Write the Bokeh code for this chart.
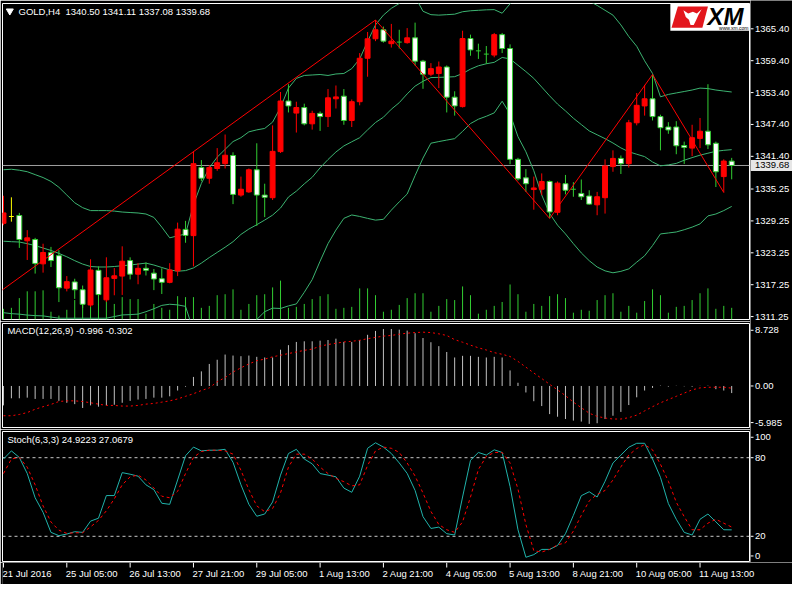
from bokeh.plotting import figure
from bokeh.layouts import column, row
from bokeh.models import ColumnDataSource, Range1d, Span
from bokeh.core.properties import value
from bokeh.embed import file_html
from bokeh.resources import INLINE

# ---------------------------------------------------------------- data
header_text = "GOLD,H4  1340.50 1341.11 1337.08 1339.68"
macd_text = "MACD(12,26,9) -0.996 -0.302"
stoch_text = "Stoch(6,3,3) 24.9223 27.0679"
bid_price = 1339.68

time_labels = ["21 Jul 2016", "25 Jul 05:00", "26 Jul 13:00", "27 Jul 21:00", "29 Jul 05:00",
               "1 Aug 13:00", "2 Aug 21:00", "4 Aug 05:00", "5 Aug 13:00", "8 Aug 21:00",
               "10 Aug 05:00", "11 Aug 13:00"]
time_label_bars = [0, 8, 16, 24, 32, 40, 48, 56, 64, 72, 80, 88]

price_ticks = [1365.40, 1359.40, 1353.40, 1347.40, 1341.40, 1335.25, 1329.25, 1323.25, 1317.25, 1311.25]
macd_tick_labels = ["8.728", "0.00", "-5.985"]
stoch_tick_labels = ["100", "80", "20", "0"]
stoch_levels = [80, 20]

opens = [1328.80, 1330.08, 1330.27, 1325.51, 1325.75, 1321.17, 1323.26, 1322.71, 1316.60, 1317.77,
         1316.30, 1313.43, 1319.96, 1314.40, 1318.43, 1318.87, 1321.79, 1319.23, 1320.33, 1319.42,
         1318.37, 1317.69, 1319.84, 1327.65, 1326.48, 1339.29, 1337.28, 1339.11, 1340.02, 1341.56,
         1334.11, 1334.71, 1338.87, 1334.11, 1333.62, 1342.29, 1351.81, 1349.54, 1350.58, 1347.52,
         1349.48, 1348.88, 1352.23, 1352.72, 1348.15, 1351.68, 1359.86, 1363.52, 1365.22, 1362.60,
         1362.90, 1362.79, 1363.70, 1359.31, 1356.86, 1356.98, 1358.21, 1352.54, 1350.76, 1363.57,
         1361.25, 1360.64, 1360.46, 1364.30, 1361.69, 1340.83, 1337.35, 1335.15, 1335.21, 1336.67,
         1330.87, 1336.25, 1335.21, 1334.42, 1333.93, 1332.28, 1333.62, 1339.47, 1341.01, 1340.02,
         1347.71, 1350.89, 1352.23, 1348.88, 1346.92, 1346.92, 1343.44, 1342.95, 1344.78, 1346.13,
         1343.86, 1337.59, 1340.50]
highs = [1333.98, 1333.69, 1330.76, 1327.52, 1326.06, 1324.96, 1324.36, 1323.73, 1318.87, 1318.37,
         1317.09, 1322.03, 1320.70, 1322.40, 1320.38, 1324.47, 1322.40, 1321.30, 1321.43, 1320.20,
         1320.33, 1321.30, 1328.93, 1329.26, 1342.34, 1340.70, 1339.73, 1342.95, 1345.51, 1342.16,
         1337.59, 1339.11, 1343.86, 1336.25, 1347.23, 1353.51, 1354.97, 1351.68, 1351.31, 1349.98,
         1349.85, 1354.06, 1354.73, 1354.06, 1352.10, 1360.83, 1364.80, 1367.05, 1365.82, 1366.32,
         1365.22, 1365.53, 1366.56, 1359.55, 1358.94, 1359.24, 1358.50, 1353.64, 1365.04, 1364.30,
         1362.60, 1362.16, 1364.62, 1364.62, 1362.47, 1341.12, 1339.00, 1337.59, 1338.19, 1336.85,
         1336.67, 1337.90, 1336.54, 1337.04, 1335.02, 1334.71, 1340.83, 1342.53, 1341.56, 1348.26,
         1353.32, 1354.84, 1356.80, 1349.24, 1347.83, 1348.02, 1344.17, 1347.34, 1348.62, 1354.97,
         1344.17, 1340.83, 1341.11]
lows = [1328.44, 1329.11, 1324.17, 1321.90, 1319.34, 1319.52, 1320.57, 1313.98, 1315.99, 1314.58,
        1312.88, 1313.06, 1313.38, 1313.98, 1315.26, 1315.32, 1318.24, 1317.33, 1318.98, 1316.23,
        1315.50, 1317.51, 1318.87, 1325.14, 1320.70, 1336.73, 1336.25, 1338.68, 1339.11, 1332.41,
        1333.80, 1334.53, 1328.31, 1329.96, 1333.19, 1342.03, 1349.66, 1345.88, 1347.23, 1346.43,
        1346.19, 1346.92, 1350.40, 1347.34, 1346.92, 1351.00, 1356.38, 1363.08, 1362.79, 1361.87,
        1361.69, 1362.60, 1358.50, 1354.11, 1356.49, 1354.24, 1349.66, 1349.06, 1350.58, 1360.33,
        1359.73, 1358.81, 1360.04, 1360.83, 1339.91, 1336.85, 1334.71, 1331.36, 1334.11, 1329.72,
        1330.32, 1334.24, 1333.80, 1333.19, 1332.28, 1330.32, 1330.63, 1338.50, 1338.08, 1339.29,
        1347.23, 1349.06, 1348.15, 1342.53, 1345.64, 1341.80, 1339.97, 1341.43, 1342.95, 1342.77,
        1335.63, 1334.60, 1337.08]
closes = [1330.76, 1330.08, 1325.75, 1326.06, 1321.25, 1323.31, 1321.79, 1316.67, 1317.82, 1316.30,
          1313.56, 1320.02, 1315.39, 1318.55, 1318.92, 1321.67, 1319.23, 1320.33, 1319.96, 1318.32,
          1317.69, 1320.02, 1327.70, 1326.52, 1340.02, 1337.28, 1339.29, 1340.20, 1341.61, 1334.24,
          1335.21, 1338.87, 1334.11, 1333.69, 1342.34, 1351.81, 1350.89, 1350.58, 1347.52, 1349.48,
          1348.88, 1352.41, 1352.59, 1348.15, 1351.68, 1359.86, 1363.52, 1365.22, 1363.08, 1363.08,
          1362.90, 1363.70, 1359.31, 1356.86, 1357.90, 1358.21, 1352.54, 1350.89, 1363.57, 1361.43,
          1361.25, 1360.64, 1364.30, 1361.69, 1340.83, 1337.17, 1336.25, 1335.45, 1336.67, 1330.94,
          1336.36, 1335.02, 1335.21, 1333.80, 1332.41, 1333.80, 1339.60, 1341.01, 1340.02, 1347.71,
          1351.00, 1352.23, 1348.88, 1346.79, 1346.37, 1343.39, 1343.08, 1344.91, 1346.13, 1343.57,
          1338.50, 1340.51, 1339.68]
volumes = [2750, 3000, 5500, 7250, 7250, 7500, 2000, 1000, 2500, 5000,
           7000, 6750, 4000, 4750, 4000, 5750, 5250, 5250, 1500, 4000,
           3000, 2500, 6000, 5750, 5750, 3000, 3500, 6250, 6500, 7750,
           2500, 4000, 6250, 6500, 8250, 10000, 3000, 3250, 4000, 5250,
           6000, 6500, 2750, 3000, 3250, 8000, 8000, 6250, 2000, 2500,
           3750, 5500, 6750, 6750, 2000, 3500, 5250, 5000, 8500, 6250,
           1500, 2500, 3500, 4500, 9000, 6500, 2000, 4000, 3500, 6000,
           6500, 5500, 1750, 2500, 2250, 5000, 6250, 6750, 2000, 3500,
           1750, 4750, 7750, 6250, 1750, 3250, 3500, 5000, 6750, 8000,
           2750, 3500, 3000]
bb_upper = [1338.88, 1338.97, 1338.79, 1338.51, 1337.96, 1337.41, 1336.68, 1335.58, 1334.12, 1332.66,
            1331.74, 1331.19, 1331.19, 1331.19, 1331.10, 1330.92, 1330.83, 1330.74, 1330.55, 1329.91,
            1328.08, 1326.07, 1326.44, 1326.80, 1332.29, 1336.31, 1339.24, 1341.25, 1342.72, 1344.18,
            1344.91, 1346.01, 1346.38, 1346.65, 1347.84, 1350.59, 1354.24, 1356.07, 1356.62, 1356.71,
            1356.80, 1356.62, 1356.90, 1356.99, 1357.90, 1359.73, 1363.03, 1366.13, 1367.97, 1369.25,
            1370.16, 1372.00, 1371.44, 1368.70, 1368.06, 1367.97, 1368.06, 1368.15, 1368.61, 1368.79,
            1368.88, 1368.97, 1369.01, 1368.33, 1370.11, 1371.99, 1372.45, 1373.45, 1374.73, 1374.92,
            1374.00, 1373.09, 1372.17, 1371.53, 1370.62, 1369.80, 1368.88, 1367.97, 1366.13, 1363.94,
            1362.11, 1359.37, 1356.99, 1352.60, 1353.05, 1353.33, 1353.60, 1353.88, 1354.24, 1354.15,
            1353.88, 1353.69, 1353.51]
bb_middle = [1325.43, 1325.34, 1325.28, 1324.97, 1324.61, 1324.15, 1323.69, 1323.14, 1322.50, 1321.77,
             1321.13, 1320.67, 1320.58, 1320.58, 1320.67, 1320.82, 1320.95, 1321.13, 1321.31, 1320.95,
             1320.49, 1320.03, 1319.79, 1319.90, 1320.40, 1321.31, 1322.36, 1323.33, 1324.30, 1325.34,
             1326.71, 1327.72, 1328.54, 1329.41, 1330.34, 1331.68, 1333.75, 1334.85, 1336.22, 1337.46,
             1339.24, 1340.80, 1342.22, 1343.36, 1344.14, 1344.91, 1346.38, 1347.77, 1348.76, 1350.27,
             1351.50, 1353.15, 1354.61, 1355.53, 1356.22, 1356.26, 1356.31, 1356.39, 1356.99, 1357.81,
             1358.44, 1358.82, 1359.09, 1360.01, 1359.73, 1358.54, 1357.35, 1356.07, 1354.43, 1352.78,
             1351.23, 1349.95, 1348.57, 1347.38, 1346.19, 1345.46, 1344.73, 1343.91, 1342.99, 1342.26,
             1341.80, 1341.35, 1340.34, 1339.61, 1339.79, 1340.07, 1340.67, 1341.16, 1341.62, 1341.99,
             1342.35, 1342.53, 1342.66]
bb_lower = [1311.98, 1311.80, 1311.71, 1311.53, 1311.43, 1311.38, 1311.16, 1310.94, 1310.94, 1310.94,
            1310.94, 1310.94, 1310.94, 1310.94, 1311.25, 1311.56, 1311.62, 1311.71, 1312.17, 1312.72,
            1313.36, 1313.57, 1313.45, 1313.17, 1308.51, 1306.31, 1305.47, 1305.40, 1305.87, 1306.49,
            1308.51, 1309.42, 1310.70, 1312.17, 1312.84, 1312.77, 1313.26, 1313.63, 1315.82, 1318.20,
            1321.68, 1324.97, 1327.53, 1329.73, 1330.37, 1330.09, 1329.73, 1329.40, 1329.55, 1331.28,
            1332.84, 1334.30, 1337.78, 1341.07, 1343.87, 1344.18, 1344.46, 1344.73, 1346.10, 1347.57,
            1348.39, 1348.94, 1349.58, 1351.77, 1349.36, 1345.10, 1342.26, 1338.69, 1334.12, 1330.64,
            1328.45, 1326.80, 1324.97, 1323.23, 1321.77, 1320.58, 1319.85, 1319.49, 1319.76, 1320.22,
            1321.49, 1322.69, 1324.61, 1326.80, 1326.98, 1327.17, 1327.59, 1328.08, 1328.69, 1330.19,
            1330.55, 1331.19, 1331.98]
zigzag_bars = [-1, 47, 69, 82, 91]
zigzag_prices = [1315.35, 1367.05, 1329.72, 1356.80, 1334.60]

macd_main = [-2.73, -1.73, -1.73, -1.64, -1.82, -1.82, -1.82, -2.09, -2.36, -2.55,
             -3.09, -2.73, -2.91, -2.73, -2.64, -2.36, -2.09, -1.91, -1.82, -1.64,
             -1.64, -1.45, -0.64, -0.10, 1.27, 2.05, 3.09, 3.68, 4.41, 4.27,
             4.18, 4.27, 4.09, 4.00, 4.00, 5.09, 5.73, 6.18, 6.27, 6.27,
             6.36, 6.45, 6.64, 6.18, 6.18, 6.45, 7.18, 7.73, 8.00, 8.00,
             7.91, 7.77, 7.41, 6.73, 6.14, 5.59, 4.77, 4.00, 4.23, 4.23,
             4.09, 4.00, 4.09, 4.00, 2.18, 0.45, -0.91, -2.14, -2.82, -3.95,
             -4.32, -4.64, -4.86, -5.00, -5.32, -5.23, -4.64, -4.18, -3.64, -2.68,
             -1.59, -0.64, -0.27, 0.05, -0.09, 0.03, -0.05, -0.10, 0.02, 0.04,
             -0.45, -0.64, -0.996]
macd_signal = [-4.18, -4.18, -4.00, -3.73, -3.27, -2.91, -2.59, -2.18, -2.09, -2.09,
               -2.18, -2.36, -2.55, -2.73, -2.73, -2.82, -2.82, -2.73, -2.55, -2.45,
               -2.27, -2.09, -1.82, -1.45, -1.09, -0.64, -0.27, 0.59, 1.18, 1.95,
               2.55, 3.09, 3.55, 3.77, 4.09, 4.32, 4.55, 4.77, 5.00, 5.18,
               5.59, 5.82, 6.00, 6.18, 6.27, 6.41, 6.64, 6.82, 7.00, 7.09,
               7.27, 7.41, 7.50, 7.55, 7.50, 7.32, 7.09, 6.50, 6.14, 5.73,
               5.36, 5.05, 4.68, 4.45, 4.14, 3.45, 2.64, 1.82, 1.05, 0.23,
               -0.55, -1.36, -2.27, -3.05, -3.82, -4.27, -4.50, -4.64, -4.64, -4.45,
               -4.09, -3.50, -2.91, -2.36, -1.91, -1.45, -1.00, -0.55, -0.27, -0.18,
               -0.18, -0.18, -0.302]
stoch_main = [79.0, 85.2, 80.2, 67.9, 49.4, 38.3, 23.0, 20.5, 21.7, 23.5,
              23.0, 31.6, 33.8, 51.1, 51.1, 68.6, 67.4, 65.9, 59.3, 55.6,
              45.2, 44.4, 63.0, 81.5, 88.1, 85.2, 85.7, 85.7, 86.4, 76.5,
              59.3, 44.4, 35.3, 37.0, 46.2, 66.7, 83.2, 86.4, 79.0, 75.3,
              67.9, 66.7, 65.4, 56.8, 53.6, 65.9, 87.2, 91.4, 88.1, 83.2,
              76.0, 68.0, 55.0, 35.0, 26.0, 27.0, 22.0, 21.0, 50.0, 78.0,
              84.0, 82.0, 86.0, 84.0, 58.0, 25.0, 4.0, 6.0, 10.0, 10.0,
              13.0, 22.0, 36.0, 51.0, 54.0, 50.0, 62.0, 76.0, 82.0, 88.0,
              91.0, 91.0, 79.0, 65.0, 45.0, 33.0, 23.0, 21.0, 33.0, 37.0,
              31.0, 25.0, 24.9223]
stoch_signal = [67.9, 79.0, 80.2, 72.8, 59.3, 43.2, 30.9, 24.7, 22.2, 22.7,
                22.7, 27.2, 32.1, 39.5, 48.6, 59.3, 65.4, 66.7, 63.0, 56.8,
                50.6, 49.4, 54.3, 67.9, 80.2, 84.7, 85.7, 85.7, 85.2, 82.7,
                70.4, 55.6, 43.2, 38.8, 41.2, 53.1, 72.8, 82.7, 82.7, 79.0,
                72.8, 67.9, 64.2, 61.7, 58.5, 59.3, 74.1, 85.2, 88.1, 87.2,
                84.0, 76.0, 66.0, 53.0, 39.0, 29.0, 25.0, 23.0, 31.0, 50.0,
                71.0, 81.0, 84.0, 84.0, 76.0, 56.0, 29.0, 9.0, 8.0, 10.0,
                13.5, 15.0, 24.0, 36.0, 47.0, 52.0, 55.0, 63.0, 73.0, 82.0,
                87.0, 90.0, 86.0, 75.0, 62.0, 46.0, 35.0, 25.0, 25.0, 30.0,
                33.0, 30.0, 27.0679]
highlighted_bar = 1

n = len(closes)
for arr in (opens, highs, lows, volumes, bb_upper, bb_middle, bb_lower,
            macd_main, macd_signal, stoch_main, stoch_signal):
    assert len(arr) == n, len(arr)
bars = list(range(n))

# ---------------------------------------------------------------- style / layout
FONT = "Liberation Sans"
FS = "9.5px"
BULL = "#FF0000"
BEAR_FILL = "#FFFFFF"
BAR_GREEN = "#32CD32"
HILITE = "#FFFF00"
BB_COL = "#3CB371"
BID_COL = "#9E9E9E"
HIST_COL = "#C0C0C0"
STOCH_COL = "#20B2AA"
LEVEL_COL = "#C8C8C8"

FW = 747          # plot frame width
SIDE_W = 42       # price-scale column width
X_START, X_END = -0.125, 94.25
x_shared = Range1d(X_START, X_END)

MAIN_RANGE = (1310.70, 1370.16)
MACD_RANGE = (-5.83, 8.77)
STOCH_RANGE = (0, 100)
macd_label_pos = [7.82, 0.0, -5.14]
stoch_label_pos = [95.6, 80, 20, 5.0]

# (frame height, top border, bottom border)
MAIN_GEOM = (316, 3, 2)
MACD_GEOM = (104, 2, 2)
STOCH_GEOM = (131, 2, 0)


def base(fw, fh, xr, yr, top=0, bottom=0, left=0, right=0, outline=None):
    p = figure(frame_width=fw, frame_height=fh, x_range=xr, y_range=yr,
               output_backend="svg", toolbar_location=None, tools="",
               background_fill_color="black", border_fill_color="black",
               outline_line_color=outline, outline_line_width=1,
               min_border_left=left, min_border_right=right, min_border_top=top,
               min_border_bottom=bottom, x_axis_location=None, y_axis_location=None)
    p.grid.visible = False
    return p


def panel(geom, yr):
    fh, top, bottom = geom
    return base(FW, fh, x_shared, Range1d(*yr), top=top, bottom=bottom,
                left=2, right=1, outline="white")


def tx(p, x, y, t, **kw):
    p.text([x], [y], text=[t], text_color=kw.pop("color", "white"), text_font=value(FONT),
           text_font_size=kw.pop("size", FS), text_baseline="middle", text_align="left", **kw)


# ---------------------------------------------------------------- main chart
pm = panel(MAIN_GEOM, MAIN_RANGE)

pm.extra_y_ranges = {"vol": Range1d(0, 81250)}
pm.segment(x0=bars, y0=[0] * n, x1=bars, y1=volumes, y_range_name="vol",
           line_color=BAR_GREEN, line_width=1)

for band in (bb_upper, bb_middle, bb_lower):
    pm.line(bars, band, line_color=BB_COL, line_width=1)

pm.add_layout(Span(location=bid_price, dimension="width", line_color=BID_COL,
                   line_width=1, level="underlay"))

wick_col, fill_col, line_col = [], [], []
for i, (o, c) in enumerate(zip(opens, closes)):
    if i == highlighted_bar:
        w, f, l = HILITE, HILITE, HILITE
    elif c > o:
        w, f, l = BULL, BULL, BULL
    else:
        w, f, l = BAR_GREEN, BEAR_FILL, BAR_GREEN
    wick_col.append(w)
    fill_col.append(f)
    line_col.append(l)

src = ColumnDataSource(dict(x=bars, h=highs, l=lows, col=wick_col))
pm.segment(x0="x", y0="l", x1="x", y1="h", line_color="col", line_width=1, source=src)

body = [i for i in bars if opens[i] != closes[i]]
body_src = ColumnDataSource(dict(
    x=body,
    top=[max(opens[i], closes[i]) for i in body],
    bottom=[min(opens[i], closes[i]) for i in body],
    fill=[fill_col[i] for i in body],
    line=[line_col[i] for i in body]))
pm.vbar(x="x", width=0.62, top="top", bottom="bottom", fill_color="fill",
        line_color="line", line_width=1, source=body_src)

doji = [i for i in bars if opens[i] == closes[i]]
doji_src = ColumnDataSource(dict(
    x0=[i - 0.31 for i in doji], x1=[i + 0.31 for i in doji],
    y=[opens[i] for i in doji], col=[wick_col[i] for i in doji]))
pm.segment(x0="x0", y0="y", x1="x1", y1="y", line_color="col", line_width=1, source=doji_src)

pm.line(zigzag_bars, zigzag_prices, line_color="#FF0000", line_width=1)

# header
pm.scatter([0.8], [1368.75], marker="inverted_triangle", size=7, color="white")
tx(pm, 1.9, 1368.70, header_text.replace("  ", "\u00a0 "))

# logo
pm.quad(left=[84.25], right=[X_END], top=[MAIN_RANGE[1]], bottom=[1365.04],
        fill_color="white", line_color=None)
pm.patch([85.2, 89.0, 88.3, 84.4], [1369.6, 1369.6, 1365.6, 1365.6],
         fill_color="#E3161D", line_color=None)
pm.patch([85.9, 86.5, 87.1, 87.6, 88.2, 87.8, 87.5, 87.2, 86.8, 86.6, 86.2],
         [1368.9, 1368.3, 1368.6, 1368.3, 1369.1, 1368.0, 1367.0, 1366.1, 1366.1, 1367.1, 1367.6],
         fill_color="white", line_color=None)
tx(pm, 88.95, 1367.65, "XM", color="black", size="24px", text_font_style="bold italic")
tx(pm, 90.4, 1365.55, "www.xm.com", color="black", size="5px")

# ---------------------------------------------------------------- MACD
pmacd = panel(MACD_GEOM, MACD_RANGE)
pmacd.segment(x0=bars, y0=[0] * n, x1=bars, y1=macd_main, line_color=HIST_COL, line_width=1)
pmacd.line(bars, macd_signal, line_color="#FF0000", line_width=1, line_dash="2 3")
tx(pmacd, 0.5, 7.78, macd_text)

# ---------------------------------------------------------------- Stochastic
pst = panel(STOCH_GEOM, STOCH_RANGE)
for lvl in stoch_levels:
    pst.add_layout(Span(location=lvl, dimension="width", line_color=LEVEL_COL,
                        line_width=1, line_dash="3 3", level="underlay"))
pst.line(bars, stoch_main, line_color=STOCH_COL, line_width=1)
pst.line(bars, stoch_signal, line_color="#FF0000", line_width=1, line_dash="3 3")
tx(pst, 0.5, 93.8, stoch_text)

# ---------------------------------------------------------------- price-scale column
# one tall column (pixel units from the top) so labels are never clipped
col_h = sum(g[0] + g[1] + g[2] for g in (MAIN_GEOM, MACD_GEOM, STOCH_GEOM))
side = base(SIDE_W, col_h, Range1d(0, SIDE_W), Range1d(col_h, 0))


def scale_to_px(vals, geom, yr, offset):
    fh, top, _ = geom
    return [offset + top + (yr[1] - v) / (yr[1] - yr[0]) * fh for v in vals]


off_main = 0
off_macd = sum(MAIN_GEOM)
off_stoch = off_macd + sum(MACD_GEOM)
scale_sets = [
    (scale_to_px(price_ticks, MAIN_GEOM, MAIN_RANGE, off_main), [f"{v:.2f}" for v in price_ticks]),
    (scale_to_px(macd_label_pos, MACD_GEOM, MACD_RANGE, off_macd), macd_tick_labels),
    (scale_to_px(stoch_label_pos, STOCH_GEOM, STOCH_RANGE, off_stoch), stoch_tick_labels),
]
for ys, labels in scale_sets:
    k = len(ys)
    side.segment(x0=[0] * k, y0=ys, x1=[3] * k, y1=ys, line_color="white", line_width=1)
    side.text(x=[4.5] * k, y=ys, text=labels, text_color="white", text_font=value(FONT),
              text_font_size=FS, text_baseline="middle", text_align="left")

bid_y = scale_to_px([bid_price], MAIN_GEOM, MAIN_RANGE, off_main)[0]
side.quad(left=[0], right=[SIDE_W], top=[bid_y - 5.5], bottom=[bid_y + 5.5],
          fill_color="#E6E6E6", line_color=None)
tx(side, 4.5, bid_y, f"{bid_price:.2f}", color="black")

# ---------------------------------------------------------------- time strip
SW = FW + 1 + SIDE_W
strip_end = X_START + (X_END - X_START) * SW / FW
ps = base(SW, 22, Range1d(X_START, strip_end), Range1d(0, 22), left=2)
k = len(time_label_bars)
ps.segment(x0=time_label_bars, y0=[22] * k, x1=time_label_bars, y1=[17] * k,
           line_color="white", line_width=1)
ps.text(x=time_label_bars, y=[11] * k, text=time_labels, text_align="left",
        text_baseline="middle", text_color="white", text_font=value(FONT),
        text_font_size=FS, x_offset=-1)

layout = column(row(column(pm, pmacd, pst), side), ps)
open("out.html", "w").write(file_html(layout, INLINE))
